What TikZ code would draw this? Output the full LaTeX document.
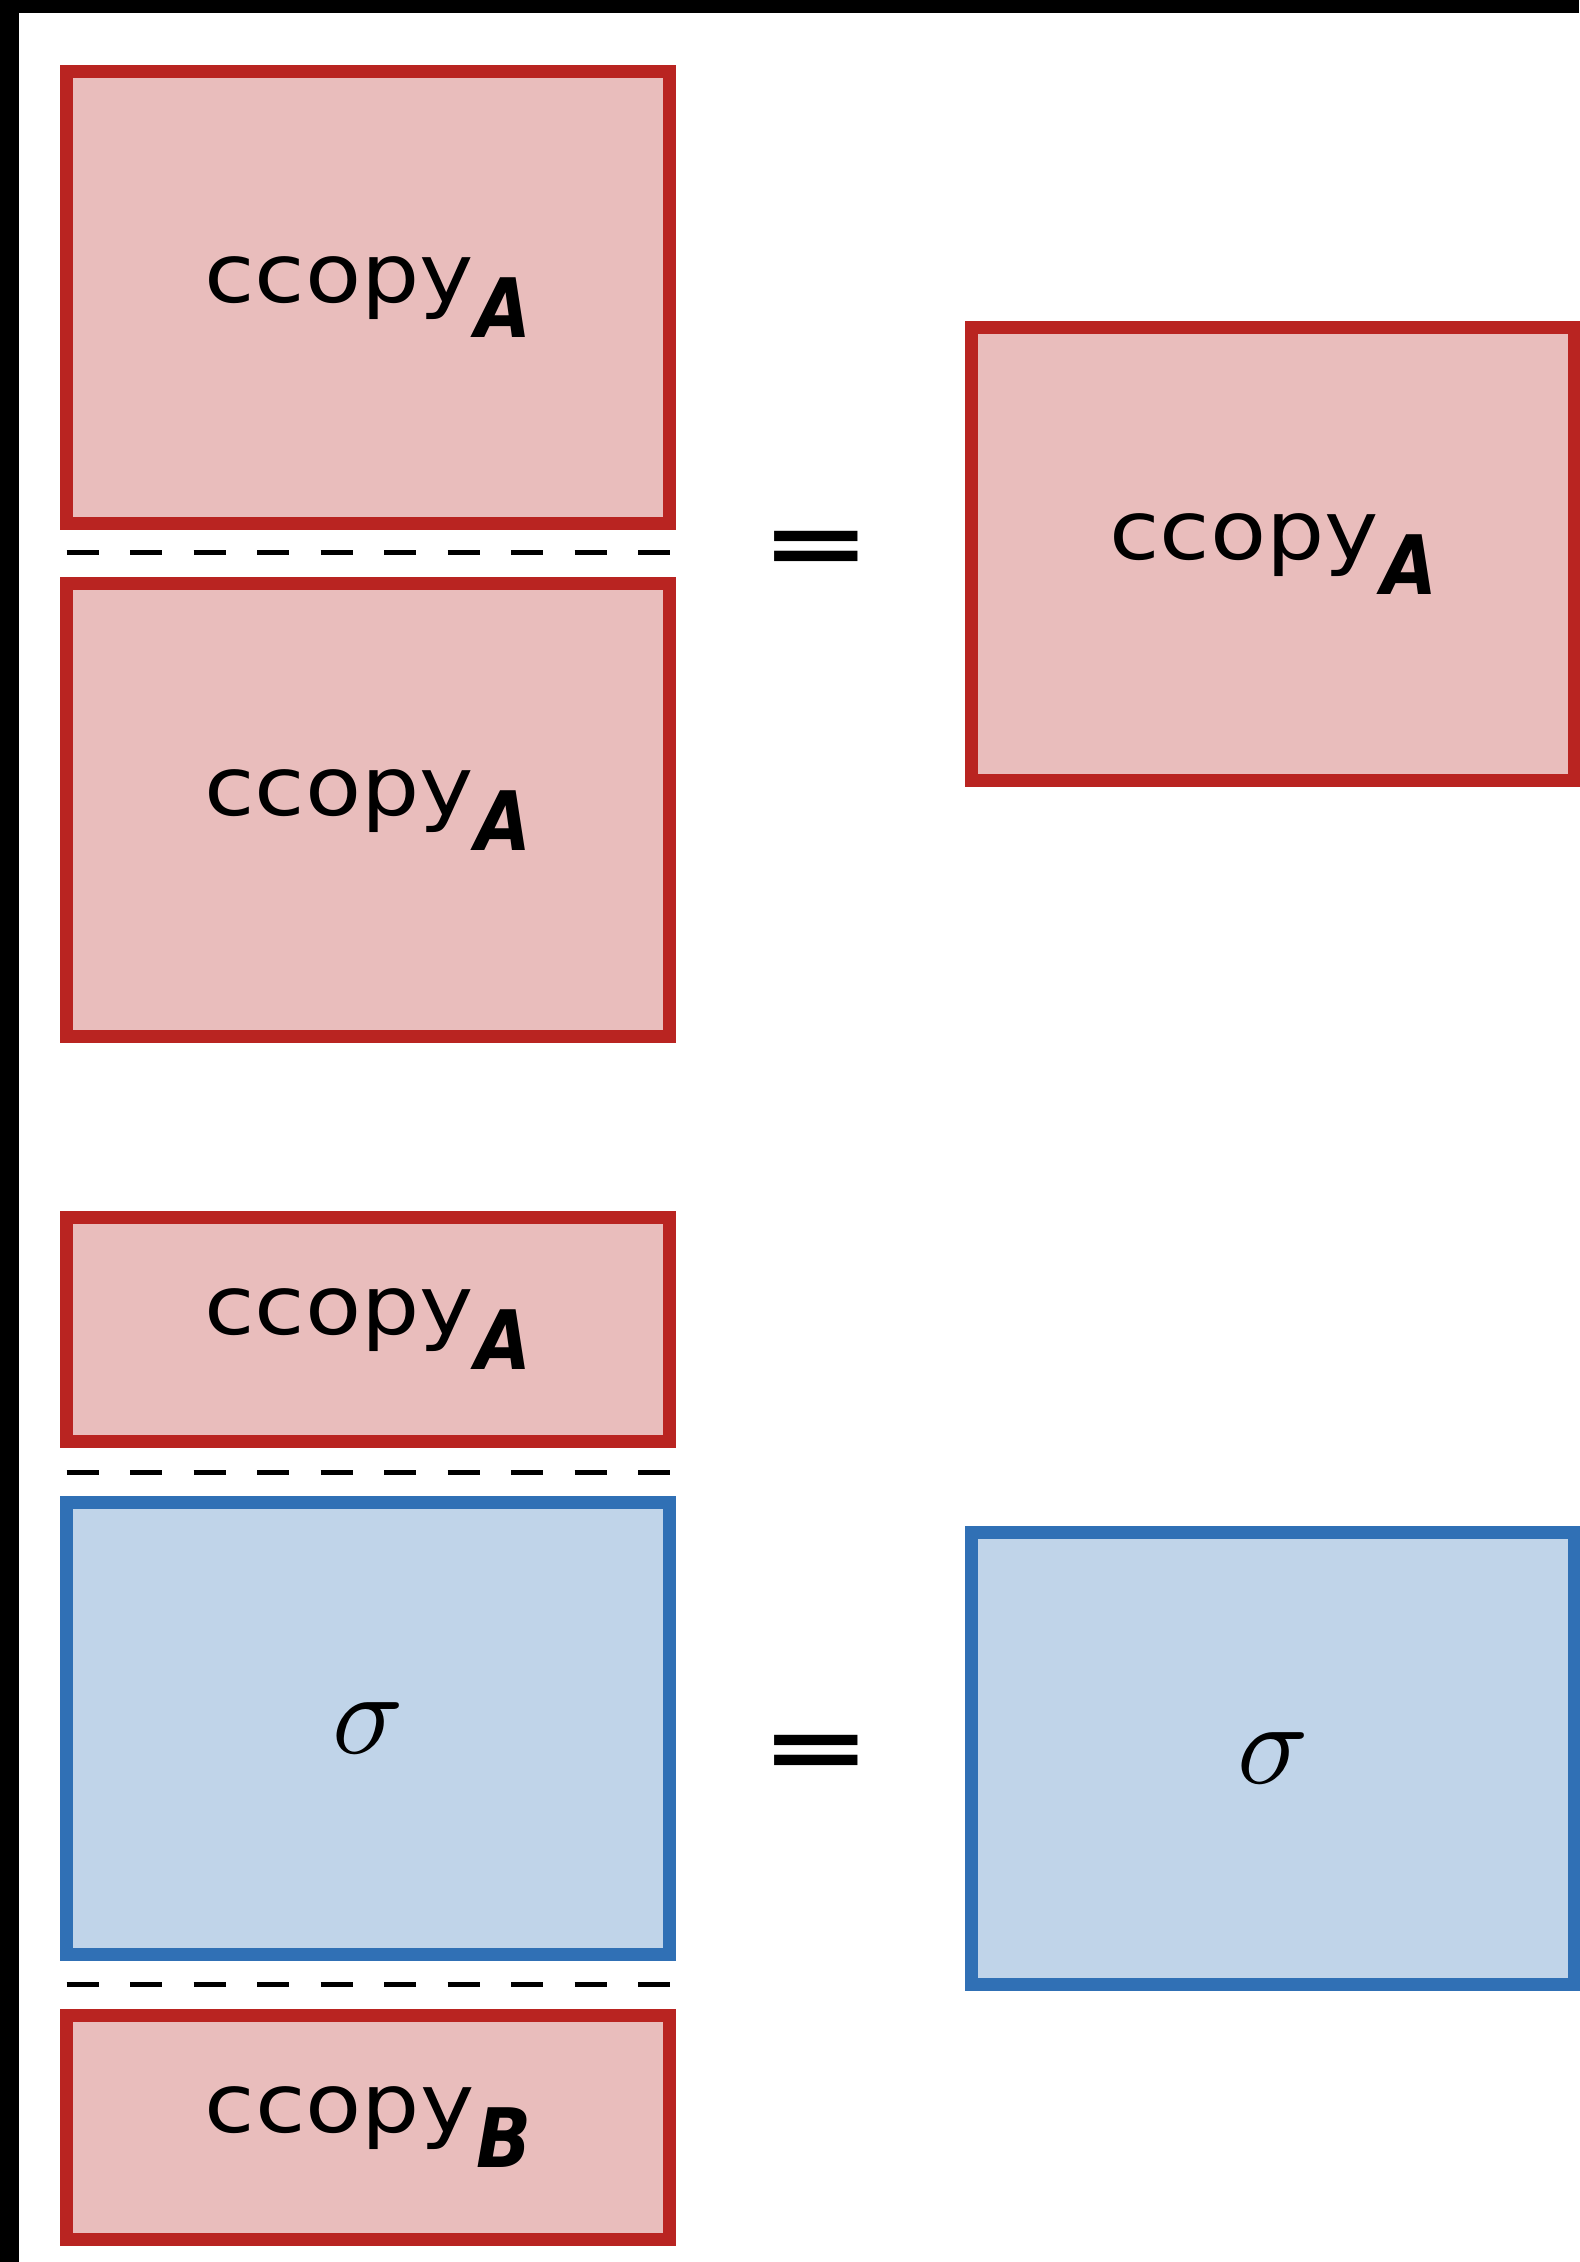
\documentclass[tikz,border=0pt]{standalone}
\usepackage{graphicx}
\usepackage{fontspec}
\newfontfamily\boxfont[FakeStretch=1.12]{DejaVu Sans}
\newfontfamily\subfont[FakeStretch=0.88]{DejaVu Sans}
\newfontfamily\eqfont{DejaVu Sans}

\definecolor{redline}{RGB}{185,36,33}
\definecolor{redfill}{RGB}{233,189,188}
\definecolor{blueline}{RGB}{48,112,181}
\definecolor{bluefill}{RGB}{192,212,233}

% label of a classical copy map, with its system as a bold subscript
\newcommand{\ccopylbl}[1]{{\boxfont ccopy}\kern1pt\raisebox{-17.5pt}{\subfont\bfseries\itshape #1}}
\newcommand{\eqsign}{\scalebox{1.04}[0.7]{\eqfont\bfseries\fontsize{64pt}{64pt}\selectfont =}}
\newcommand{\sigmalbl}{\scalebox{5.9}{\fontsize{10pt}{12pt}\selectfont$\sigma$}}

\tikzset{
  mapbox/.style={rectangle, inner sep=0pt, line width=6.5pt,
    minimum width=301.5pt, minimum height=#1,
    font=\fontsize{41pt}{41pt}\selectfont},
  copybox/.style={mapbox=#1, draw=redline, fill=redfill},
  statebox/.style={mapbox=#1, draw=blueline, fill=bluefill},
  sep/.style={line width=2.5pt, dash pattern=on 16pt off 15.75pt},
  eqnode/.style={inner sep=0pt}
}

\begin{document}
\begin{tikzpicture}[x=0.5pt, y=-0.5pt]
  \useasboundingbox (0,0) rectangle (1579,2262);
  \fill[white] (0,0) rectangle (1579,2262);
  % dark frame strips along the top and left
  \fill[black] (0,0) rectangle (1579,13);
  \fill[black] (0,0) rectangle (19,2262);

  % first equation: two copies in sequence equal one copy
  \node[copybox=226pt] (c1) at (368,297.5) {\ccopylbl{A}};
  \node[copybox=226pt] (c2) at (368,810)   {\ccopylbl{A}};
  \draw[sep] (66.7,553) -- (670,553);
  \node[eqnode] (eq1) at (816,553) {\eqsign};
  \node[copybox=226pt] (c3) at (1273,554)  {\ccopylbl{A}};

  % second equation: sigma between copies equals sigma
  \node[copybox=112pt]  (c4) at (368,1329.5) {\ccopylbl{A}};
  \draw[sep] (66.7,1472) -- (670,1472);
  \node[statebox=226pt] (s1) at (368,1728) {\sigmalbl};
  \draw[sep] (66.7,1984) -- (670,1984);
  \node[copybox=112pt]  (c5) at (368,2127) {\ccopylbl{B}};
  \node[eqnode] (eq2) at (816,1757) {\eqsign};
  \node[statebox=226pt] (s2) at (1273,1758.5) {\sigmalbl};
\end{tikzpicture}
\end{document}
